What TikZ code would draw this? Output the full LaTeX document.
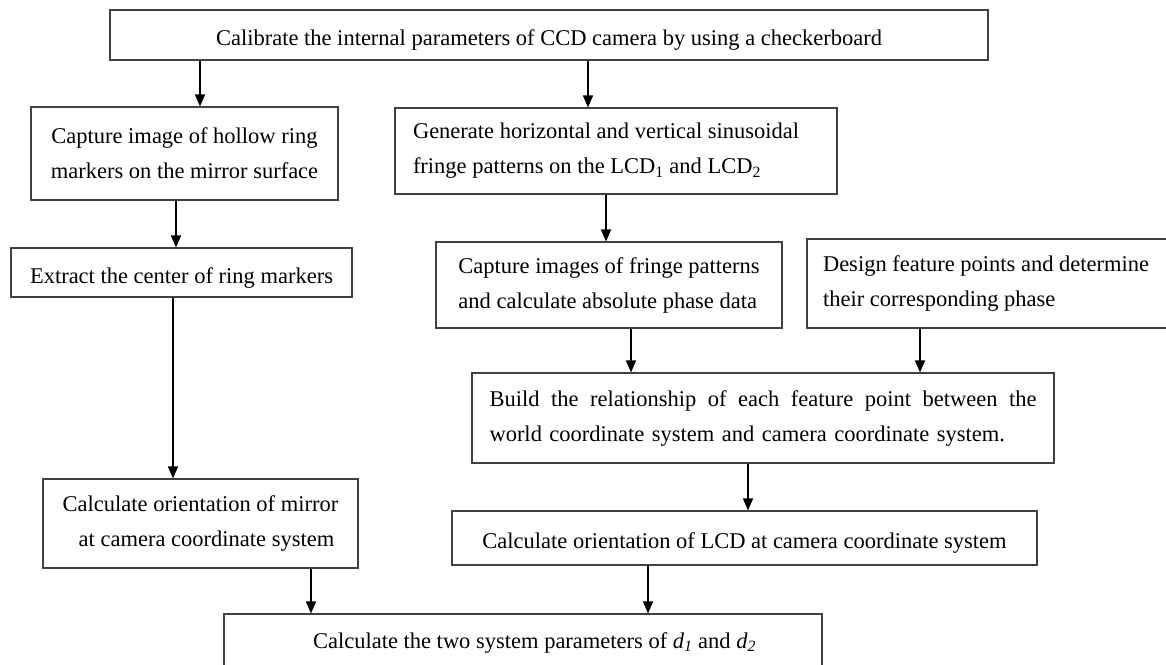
\documentclass[tikz,border=0pt]{standalone}
\usepackage{fontspec}
\setmainfont{Liberation Serif}
\usetikzlibrary{arrows.meta}
\begin{document}
\begin{tikzpicture}[x=1pt,y=-1pt,
  box/.style={draw=black!75, line width=1.1pt, inner sep=0pt, text=black,
    font=\fontsize{22.5}{35}\selectfont},
  onel/.style={text height=21pt, text depth=0pt},
  lbl/.style={inner sep=0pt, text=black, font=\fontsize{22.5}{35}\selectfont},
  arr/.style={line width=1.5pt, draw=black, -{Triangle[length=12pt,width=10pt]}}]
\useasboundingbox (0,0) rectangle (1166,664);

\node[box, onel, minimum width=878, minimum height=50] (b0) at (549,35)
  {Calibrate the internal parameters of CCD camera by using a checkerboard};

\node[box, minimum width=307, minimum height=93, align=center] (b1) at (184.5,153.5)
  {Capture image of hollow ring\\markers on the mirror surface};

\node[box, minimum width=442, minimum height=86, text width=406, align=flush left] (b3) at (616,151)
  {Generate horizontal and vertical sinusoidal\\fringe patterns on the LCD\textsubscript{1} and LCD\textsubscript{2}};

\node[box, onel, minimum width=341, minimum height=49] (b2) at (181.5,272.5)
  {Extract the center of ring markers};

\node[box, minimum width=346, minimum height=86, align=left] (b5) at (609,285)
  {Capture images of fringe patterns\\and calculate absolute phase data};

\node[box, minimum width=378, minimum height=89, text width=346, align=flush left] (b6) at (996,283.5)
  {Design feature points and determine\\their corresponding phase};

\node[box, minimum width=582, minimum height=90, text width=547, align=left] (b7) at (763,418)
  {\hbox to 547pt{Build\hfill the\hfill relationship\hfill of\hfill each\hfill feature\hfill point\hfill between\hfill the}\\world coordinate system and camera coordinate system.};

\node[box, minimum width=315, minimum height=89, align=center] (b8) at (200.5,523.5)
  {Calculate orientation of mirror\\\hspace*{12pt}at camera coordinate system};

\node[box, onel, minimum width=585, minimum height=54] (b9) at (744.5,538)
  {Calculate orientation of LCD at camera coordinate system};

\node[box, minimum width=598, minimum height=86] (b10) at (523,657) {};
\node[lbl, anchor=base] (t10) at (534.5,648)
  {Calculate the two system parameters of \textit{d}\textsubscript{\textit{1}} and \textit{d}\textsubscript{\textit{2}}};

\draw[arr] (200,0 |- b0.south) -- (200,0 |- b1.north);
\draw[arr] (588,0 |- b0.south) -- (588,0 |- b3.north);
\draw[arr] (176,0 |- b1.south) -- (176,0 |- b2.north);
\draw[arr] (606,0 |- b3.south) -- (606,0 |- b5.north);
\draw[arr] (173,0 |- b2.south) -- (173,0 |- b8.north);
\draw[arr] (631,0 |- b5.south) -- (631,0 |- b7.north);
\draw[arr] (920,0 |- b6.south) -- (920,0 |- b7.north);
\draw[arr] (748,0 |- b7.south) -- (748,0 |- b9.north);
\draw[arr] (311,0 |- b8.south) -- (311,0 |- b10.north);
\draw[arr] (648,0 |- b9.south) -- (648,0 |- b10.north);
\end{tikzpicture}
\end{document}
